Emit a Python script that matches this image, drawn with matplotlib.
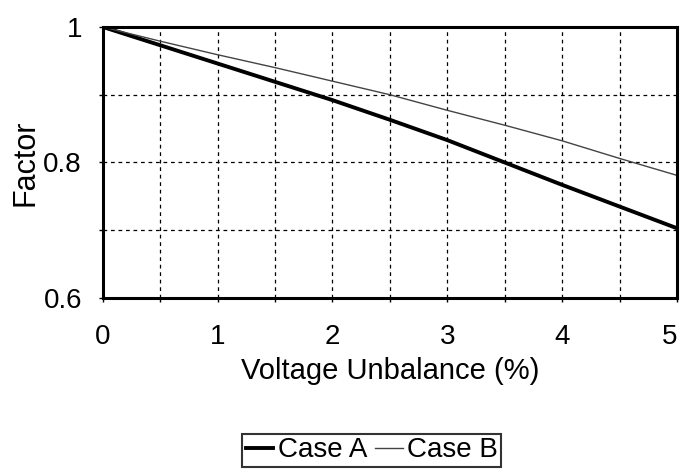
import numpy as np
from matplotlib import pyplot as plt
from matplotlib.ticker import MultipleLocator

plt.rcParams['font.family'] = ['Liberation Sans', 'DejaVu Sans']

# data
unbalance = [0, 0.5, 1, 1.5, 2, 2.5, 3, 3.5, 4, 4.5, 5]
case_a = [1.0, 0.973, 0.946, 0.919, 0.892, 0.863, 0.833, 0.800, 0.767, 0.735, 0.703]
case_b = [1.0, 0.979, 0.959, 0.940, 0.920, 0.900, 0.877, 0.855, 0.832, 0.806, 0.781]
x_ticks = [0, 1, 2, 3, 4, 5]
y_ticks = [0.6, 0.8, 1.0]
y_labels = ['0.6', '0.8', '1']

fig = plt.figure(figsize=(6.81, 4.73), dpi=100)
ax = fig.add_axes([0.151, 0.370, 0.843, 0.573])

ax.plot(unbalance, case_a, color='black', lw=2.8, label='Case A')
ax.plot(unbalance, case_b, color='#444444', lw=1.0, label='Case B')

ax.set_xlim(0, 5)
ax.set_ylim(0.6, 1.0)
ax.set_xticks(x_ticks)
ax.xaxis.set_minor_locator(MultipleLocator(0.5))
ax.yaxis.set_minor_locator(MultipleLocator(0.1))
ax.set_yticks(y_ticks)
ax.set_yticklabels(y_labels)
ax.grid(which='both', color='black', ls=(0, (3, 3)), lw=0.9)
ax.tick_params(which='both', length=3, width=1, direction='out', labelsize=20)
ax.tick_params(axis='x', which='major', pad=16)
ax.tick_params(axis='y', which='major', pad=12)
for s in ax.spines.values():
    s.set_linewidth(2.2)

# keep the last x label inside the figure
ax.xaxis.get_major_ticks()[-1].label1.set_horizontalalignment('right')

ax.set_xlabel('Voltage Unbalance (%)', fontsize=21, labelpad=5)
ax.set_ylabel('Factor', fontsize=22, labelpad=2)

leg = fig.legend(loc='center', bbox_to_anchor=(0.546, 0.048), ncol=2, fontsize=20,
                 frameon=True, fancybox=False, handlelength=1.0, handletextpad=0.15,
                 columnspacing=0.3, borderpad=0.12, borderaxespad=0)
leg.get_frame().set_edgecolor('black')
leg.get_frame().set_linewidth(1.5)

fig.savefig('out.png', dpi=100)
